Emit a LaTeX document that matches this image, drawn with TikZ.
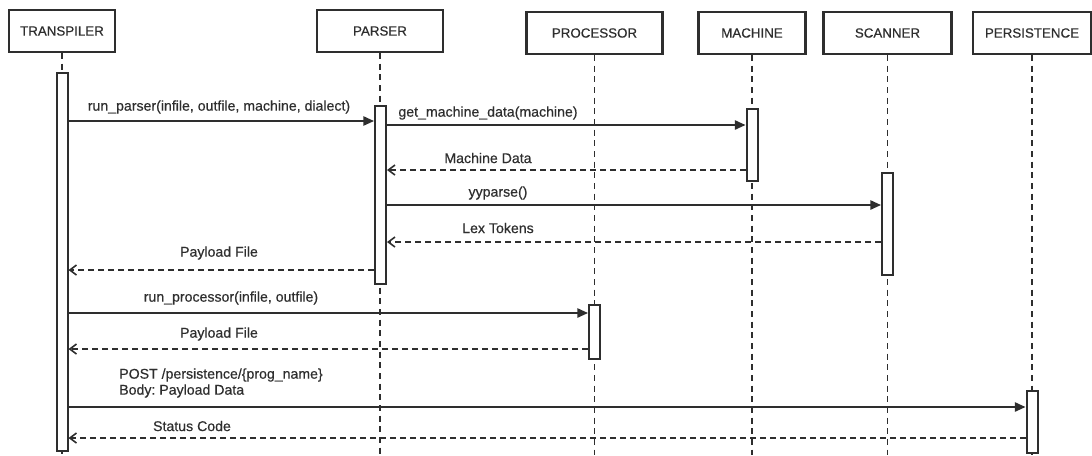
\documentclass[tikz,border=0pt]{standalone}
\usepackage{fontspec}
\setmainfont{Liberation Sans}[FakeBold=0.6]
\newfontfamily\labelfont{Liberation Sans}[FakeBold=0.5]
\usepackage{xcolor}
\usetikzlibrary{arrows.meta, positioning, calc}
\definecolor{ink}{HTML}{2E2E2E}
\tikzset{
  head/.style={draw=ink, line width=1.6pt, minimum height=31.5pt, inner sep=0pt, text=ink, font=\labelfont\fontsize{10}{12}\selectfont},
  bar/.style={draw=ink, line width=1.5pt, fill=white, minimum width=8.25pt, inner sep=0pt, anchor=north},
  life/.style={draw=ink, line width=1.2pt, dash pattern=on 4.5pt off 3.5pt},
  call/.style={draw=ink, line width=1.2pt, -{Triangle[length=8pt,width=7pt]}},
  reply/.style={draw=ink, line width=1.2pt, dash pattern=on 4.5pt off 3pt, -{Straight Barb[length=5pt,width=7.5pt]}},
  msg/.style={text=ink, inner sep=0pt, font=\labelfont\fontsize{10.6}{12}\selectfont\frenchspacing}
}
\begin{document}
\begin{tikzpicture}[x=0.75pt,y=-0.75pt]
\useasboundingbox (0,0) rectangle (1092,455);
\coordinate (bottom) at (0,455);
\node[head, minimum width=79.5pt] (transpiler) at (62,31) {TRANSPILER};
\node[head, minimum width=94.5pt] (parser) at (380,31) {PARSER};
\node[head, minimum width=102pt] (processor) at (594.5,33) {PROCESSOR};
\node[head, minimum width=80.25pt] (machine) at (752,33) {MACHINE};
\node[head, minimum width=96pt] (scanner) at (887.5,33) {SCANNER};
\node[head, minimum width=88.5pt] (persistence) at (1032,33) {PERSISTENCE};
\foreach \h in {transpiler, parser, processor, machine, scanner, persistence}
  \draw[life] (\h.south) -- (\h.south |- bottom);
\node[bar, minimum height=283.5pt] (tbar) at (62,72) {};
\node[bar, minimum height=133.5pt] (pbar) at (380.5,105) {};
\node[bar, minimum height=54pt] (mbar) at (752,108) {};
\node[bar, minimum height=76.5pt] (sbar) at (887.5,172) {};
\node[bar, minimum height=40.5pt] (prbar) at (594.5,304) {};
\node[bar, minimum height=46.5pt] (psbar) at (1032,390) {};
\draw[call] (tbar.east |- 0,121) -- (pbar.west |- 0,121);
\node[msg] (m1) at (219,107) {run\_parser(infile, outfile, machine, dialect)};
\draw[call] (pbar.east |- 0,125) -- (mbar.west |- 0,125);
\node[msg] (m2) at (488,113) {get\_machine\_data(machine)};
\draw[reply] (mbar.west |- 0,170) -- (pbar.east |- 0,170);
\node[msg] (m3) at (488,158) {Machine Data};
\draw[call] (pbar.east |- 0,205) -- (sbar.west |- 0,205);
\node[msg] (m4) at (498,193) {yyparse()};
\draw[reply] (sbar.west |- 0,242) -- (pbar.east |- 0,242);
\node[msg] (m5) at (498,228) {Lex Tokens};
\draw[reply] (pbar.west |- 0,270) -- (tbar.east |- 0,270);
\node[msg] (m6) at (219,253) {Payload File};
\draw[call] (tbar.east |- 0,313) -- (prbar.west |- 0,313);
\node[msg] (m7) at (231,298) {run\_processor(infile, outfile)};
\draw[reply] (prbar.west |- 0,349) -- (tbar.east |- 0,349);
\node[msg] (m8) at (219,334) {Payload File};
\draw[call] (tbar.east |- 0,407) -- (psbar.west |- 0,407);
\node[msg, align=left, anchor=west] (m9) at (119,383) {POST /persistence/\{prog\_name\}\\Body: Payload Data};
\draw[reply] (psbar.west |- 0,438) -- (tbar.east |- 0,438);
\node[msg] (m10) at (192,426) {Status Code};
\end{tikzpicture}
\end{document}
